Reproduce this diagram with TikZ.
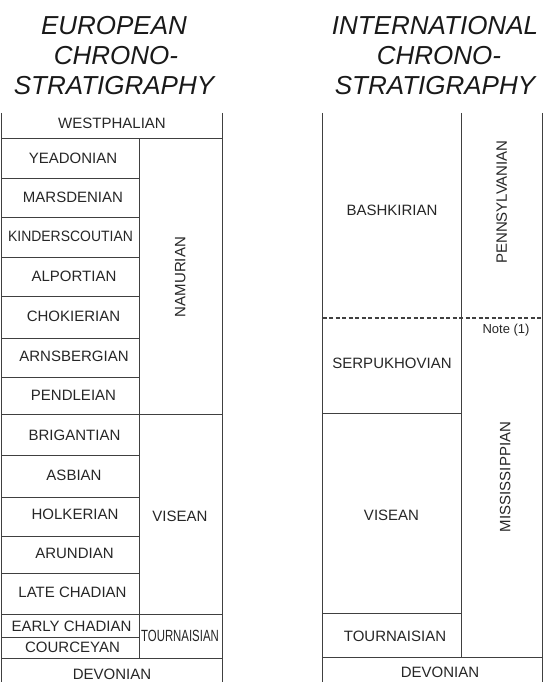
\documentclass[tikz,border=0pt]{standalone}
\usepackage{fontspec}
\setmainfont{Liberation Sans}
\begin{document}
\begin{tikzpicture}[x=1pt,y=-1pt,
  rule/.style={draw=black!75, line width=1pt},
  dashrule/.style={draw=black!75, line width=1.2pt, dash pattern=on 4pt off 2.5pt},
  lbl/.style={font=\fontsize{15}{18}\selectfont, text=black!85, inner sep=0pt, text height=10.7pt, text depth=0pt, anchor=center},
  notelbl/.style={lbl, font=\fontsize{13}{15}\selectfont, text height=9.3pt},
  vlbl/.style={lbl, rotate=90},
  ttl/.style={font=\fontsize{26}{30}\selectfont\itshape, text=black!90, inner sep=0pt, anchor=base}]
\useasboundingbox (0,0) rectangle (543,682);

% ---------- titles ----------
\node[ttl] (tE1) at (114,35) {EUROPEAN};
\node[ttl] (tE2) at (116,65) {CHRONO-};
\node[ttl] (tE3) at (114,95) {STRATIGRAPHY};
\node[ttl] (tI1) at (435,35) {INTERNATIONAL};
\node[ttl] (tI2) at (439,65) {CHRONO-};
\node[ttl] (tI3) at (435,95) {STRATIGRAPHY};

% ---------- European column: lines ----------
\draw[rule] (1.5,113) -- (1.5,682);
\draw[rule] (222,113) -- (222,682);
\draw[rule] (139,138) -- (139,658);
\foreach \y in {138,414,614,658} \draw[rule] (1.5,\y) -- (222,\y);
\foreach \y in {178,217,257,296,338,377,455,497,536,573,637} \draw[rule] (1.5,\y) -- (139,\y);

% ---------- European column: labels ----------
\node[lbl] (westph) at (112,123.5) {WESTPHALIAN};
\node[lbl] (yead) at (73,158) {YEADONIAN};
\node[lbl] (mars) at (73,197) {MARSDENIAN};
\node[lbl] (kind) at (70.5,236.5) {\scalebox{0.93}[1]{KINDERSCOUTIAN}};
\node[lbl] (alpo) at (74,276) {ALPORTIAN};
\node[lbl] (chok) at (73.5,316.5) {CHOKIERIAN};
\node[lbl] (arns) at (74,356.5) {ARNSBERGIAN};
\node[lbl] (pend) at (73.5,395) {PENDLEIAN};
\node[lbl] (brig) at (74.5,435) {BRIGANTIAN};
\node[lbl] (asbi) at (74,475.5) {ASBIAN};
\node[lbl] (holk) at (75,514) {HOLKERIAN};
\node[lbl] (arun) at (74.5,553) {ARUNDIAN};
\node[lbl] (latec) at (72.5,592.5) {LATE CHADIAN};
\node[lbl] (earlyc) at (71.5,626) {EARLY CHADIAN};
\node[lbl] (cour) at (72.5,647.5) {COURCEYAN};
\node[lbl] (devE) at (112,674) {DEVONIAN};
\node[vlbl] (namur) at (180,277) {NAMURIAN};
\node[lbl] (viseE) at (180,516) {VISEAN};
\node[lbl, text height=11.6pt] (tourE) at (180,636) {\scalebox{0.76}[1.08]{TOURNAISIAN}};

% ---------- International column: lines ----------
\draw[rule] (322.5,113) -- (322.5,682);
\draw[rule] (461,113) -- (461,657);
\draw[rule] (542,113) -- (542,682);
\draw[dashrule] (322.5,318) -- (543,318);
\draw[rule] (322.5,413.5) -- (461,413.5);
\draw[rule] (322.5,613) -- (461,613);
\draw[rule] (322.5,657) -- (543,657);

% ---------- International column: labels ----------
\node[lbl] (bash) at (392,210) {BASHKIRIAN};
\node[vlbl] (penn) at (501.5,202) {PENNSYLVANIAN};
\node[notelbl] (note) at (506,329) {Note (1)};
\node[lbl] (serp) at (392,363.5) {SERPUKHOVIAN};
\node[lbl] (viseI) at (391.5,515) {VISEAN};
\node[vlbl] (miss) at (505,477) {MISSISSIPPIAN};
\node[lbl] (tourI) at (395,636) {TOURNAISIAN};
\node[lbl] (devI) at (440,672) {DEVONIAN};
\end{tikzpicture}
\end{document}
